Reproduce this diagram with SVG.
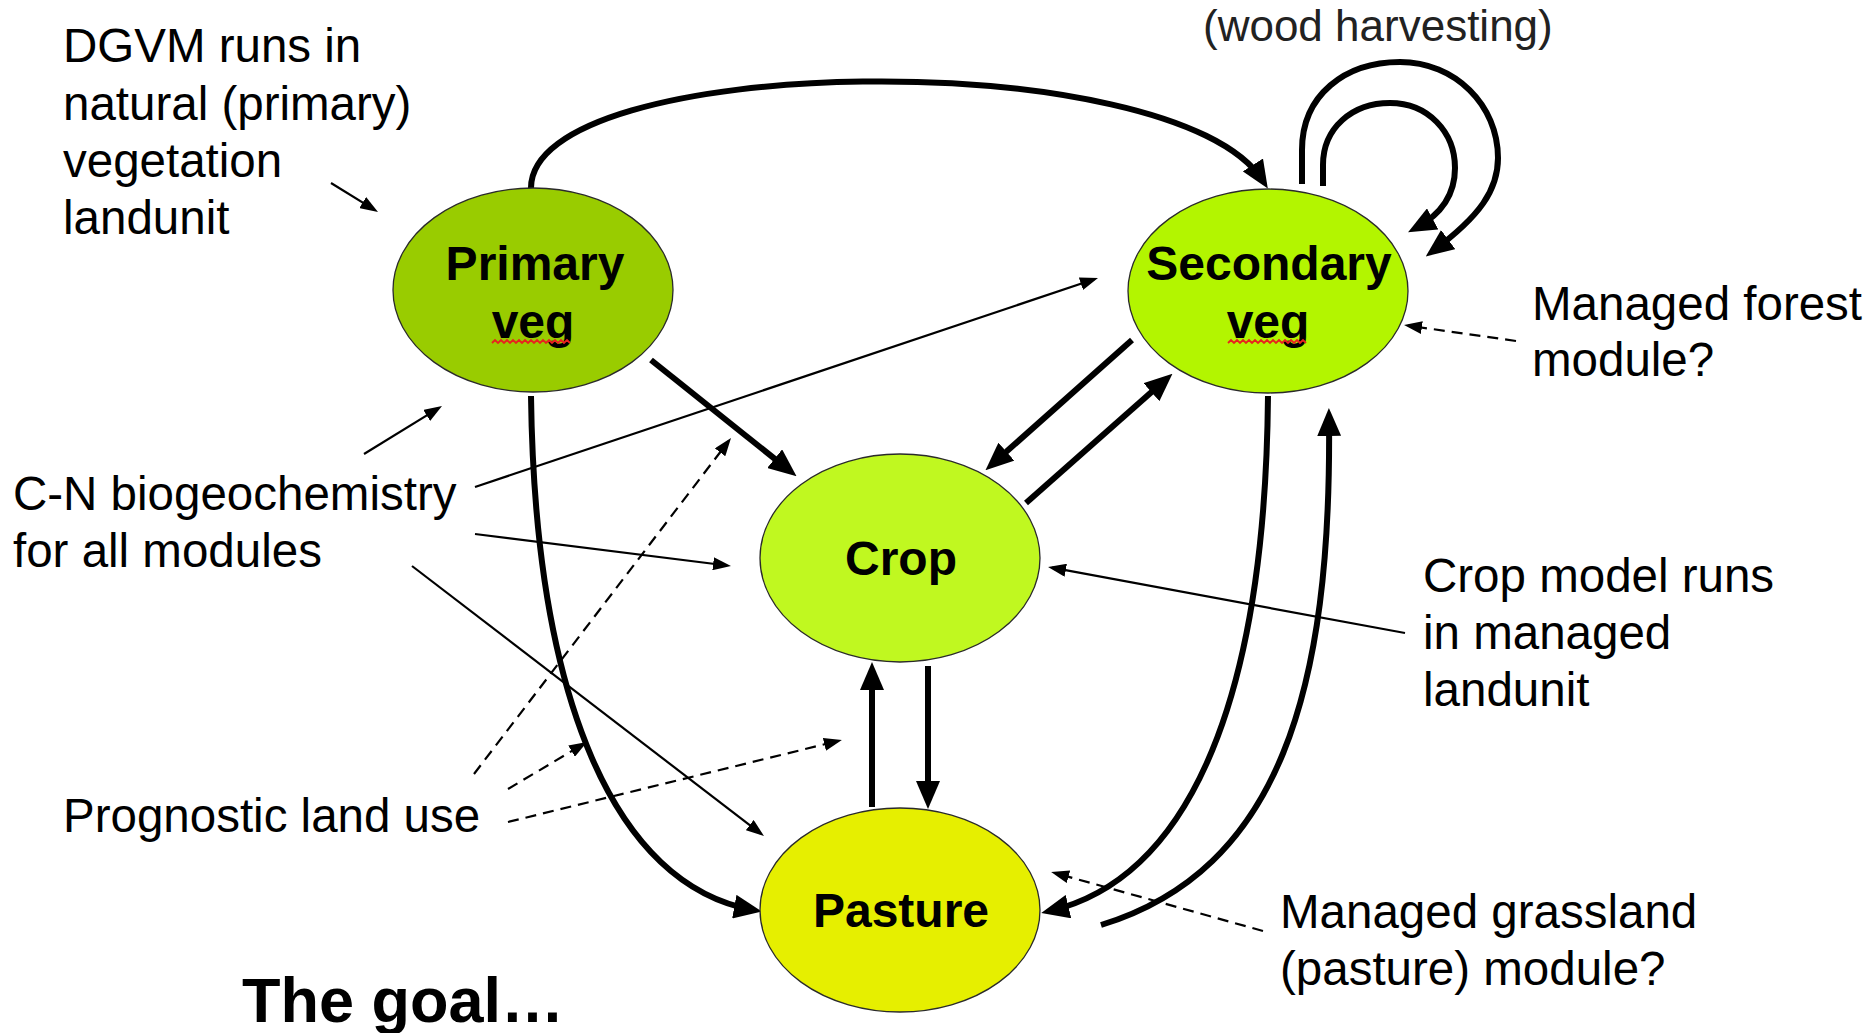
<svg xmlns="http://www.w3.org/2000/svg" width="1872" height="1033" viewBox="0 0 1872 1033">
  <style>
    .node { stroke: #2a2a2a; stroke-width: 1.3; }
    .ntext { font-family: "Liberation Sans", Arial, sans-serif; font-weight: bold; font-size: 48px; fill: #000; text-anchor: middle; }
    .label { font-family: "Liberation Sans", Arial, sans-serif; font-size: 47.5px; fill: #000; }
    .thick { fill: none; stroke: #000; stroke-width: 6; marker-end: url(#headBig); }
    .thin { fill: none; stroke: #000; stroke-width: 2.2; marker-end: url(#headSmall); }
    .dash { fill: none; stroke: #000; stroke-width: 2.2; stroke-dasharray: 11 7; marker-end: url(#headSmall); }
    .squiggle { fill: none; stroke: #e8231e; stroke-width: 1.8; }
  </style>
  <defs>
    <marker id="headBig" markerUnits="userSpaceOnUse" viewBox="0 0 28 24" markerWidth="28" markerHeight="24" refX="19" refY="12" orient="auto">
      <path d="M0,0 L28,12 L0,24 z" fill="#000"/>
    </marker>
    <marker id="headSmall" markerUnits="userSpaceOnUse" viewBox="0 0 18 13" markerWidth="18" markerHeight="13" refX="14" refY="6.5" orient="auto">
      <path d="M0,0 L18,6.5 L0,13 z" fill="#000"/>
    </marker>
  </defs>

  <rect width="1872" height="1033" fill="#fff"/>

  <!-- transitions between land units -->
  <g id="connectors">
    <!-- primary to secondary over the top -->
    <path class="thick" d="M531,189 C528,52 1175,42 1263,181"/>
    <!-- wood harvesting loops on secondary -->
    <path class="thick" d="M1302,184 L1302,150 C1302,95 1345,62 1400,62 C1455,62 1498,105 1498,158 C1498,190 1480,216 1433,251"/>
    <path class="thick" d="M1323,186 L1323,165 C1323,128 1352,103 1390,103 C1428,103 1455,132 1455,168 C1455,195 1440,215 1416,228"/>
    <!-- straight flows around crop -->
    <path class="thick" d="M651,360 L789.5,470.6"/>
    <path class="thick" d="M1132,340 L992.2,464.3"/>
    <path class="thick" d="M1026,503 L1165.7,379.6"/>
    <path class="thick" d="M872,807 L872,671"/>
    <path class="thick" d="M928,666 L928,800"/>
    <!-- long curved flows to and from pasture -->
    <path class="thick" d="M531,396 C535,700 615,885 753,910"/>
    <path class="thick" d="M1268,396 C1265,720 1180,880 1050,911"/>
    <path class="thick" d="M1101,925 C1280,870 1332,690 1329,417"/>

    <!-- annotation pointers -->
    <path class="thin" d="M331,183 L374.6,209.9"/>
    <path class="thin" d="M364,454 L438.6,408.1"/>
    <path class="thin" d="M475,487 L1094.2,279.3"/>
    <path class="thin" d="M475,534 L727,565.5"/>
    <path class="thin" d="M412,566 L760.8,833.6"/>
    <path class="thin" d="M1405,633 L1052,567.7"/>
    <path class="dash" d="M474,774 L728.6,441.2"/>
    <path class="dash" d="M508,789 L583.6,744"/>
    <path class="dash" d="M508,822 L838,741"/>
    <path class="dash" d="M1516,341 L1408,325.6"/>
    <path class="dash" d="M1263,931 L1055,873"/>
  </g>

  <!-- land unit nodes -->
  <g id="primary">
    <ellipse class="node" cx="533" cy="290" rx="140" ry="102" fill="#99cc00"/>
    <text class="ntext" x="535" y="280">Primary</text>
    <text class="ntext" x="533" y="338">veg</text>
    <path class="squiggle" d="M492,343 l3,-3 l3,3 l3,-3 l3,3 l3,-3 l3,3 l3,-3 l3,3 l3,-3 l3,3 l3,-3 l3,3 l3,-3 l3,3 l3,-3 l3,3 l3,-3 l3,3 l3,-3 l3,3 l3,-3 l3,3 l3,-3 l3,3 l3,-3 l3,3"/>
  </g>
  <g id="secondary">
    <ellipse class="node" cx="1268" cy="291" rx="140" ry="102" fill="#b3f500"/>
    <text class="ntext" x="1269" y="280">Secondary</text>
    <text class="ntext" x="1268" y="338">veg</text>
    <path class="squiggle" d="M1228,343 l3,-3 l3,3 l3,-3 l3,3 l3,-3 l3,3 l3,-3 l3,3 l3,-3 l3,3 l3,-3 l3,3 l3,-3 l3,3 l3,-3 l3,3 l3,-3 l3,3 l3,-3 l3,3 l3,-3 l3,3 l3,-3 l3,3 l3,-3 l3,3"/>
  </g>
  <g id="crop">
    <ellipse class="node" cx="900" cy="558" rx="140" ry="104" fill="#c0f820"/>
    <text class="ntext" x="901" y="575">Crop</text>
  </g>
  <g id="pasture">
    <ellipse class="node" cx="900" cy="910" rx="140" ry="102" fill="#e6ef00"/>
    <text class="ntext" x="901" y="927">Pasture</text>
  </g>

  <!-- notes -->
  <g id="notes">
    <text class="label" x="63" y="62">DGVM runs in</text>
    <text class="label" x="63" y="120">natural (primary)</text>
    <text class="label" x="63" y="177">vegetation</text>
    <text class="label" x="63" y="234">landunit</text>

    <text class="label" x="13" y="510">C-N biogeochemistry</text>
    <text class="label" x="13" y="567">for all modules</text>

    <text class="label" x="63" y="832">Prognostic land use</text>

    <text class="label" x="1532" y="320">Managed forest</text>
    <text class="label" x="1532" y="376">module?</text>

    <text class="label" x="1423" y="592">Crop model runs</text>
    <text class="label" x="1423" y="649">in managed</text>
    <text class="label" x="1423" y="706">landunit</text>

    <text class="label" x="1280" y="928">Managed grassland</text>
    <text class="label" x="1280" y="985">(pasture) module?</text>

    <text class="label" x="1203" y="41" style="font-size:44px; fill:#222">(wood harvesting)</text>

    <text class="label" x="242" y="1022" style="font-size:63px; font-weight:bold">The goal…</text>
  </g>
</svg>
